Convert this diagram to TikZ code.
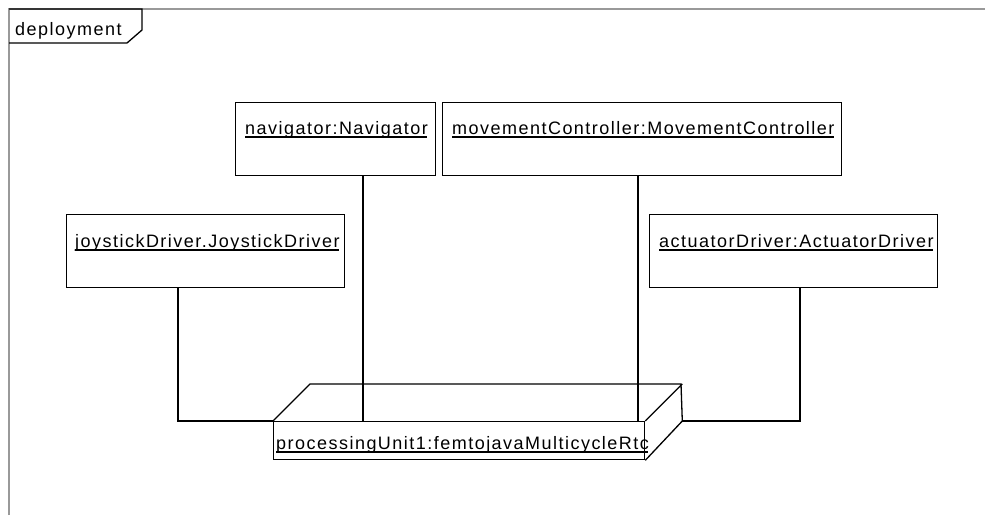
\documentclass[tikz,border=0pt]{standalone}
\usepackage{fontspec}
\setmainfont[LetterSpace=8.2]{Liberation Sans}
\usetikzlibrary{calc}
\begin{document}
\begin{tikzpicture}[x=1pt,y=-1pt,
  inst/.style={draw=black,line width=1.3pt,minimum height=73pt,inner sep=0pt,anchor=north west},
  lbl/.style={anchor=base west,inner sep=0pt,font=\fontsize{18}{20}\selectfont},
  conn/.style={draw=black,line width=1.3pt},
  ul/.style={draw=black,line width=1.1pt},
  frame/.style={draw=black!40,line width=1.3pt}]
\useasboundingbox (0,0) rectangle (985,515);
% frame
\draw[frame] (9,515) -- (9,9) -- (985,9);
\draw[conn] (9,9) -- (142,9) -- (142,30) -- (127,43) -- (9,43);
\node[lbl] (ft) at (15,35) {deployment};
% instance boxes
\node[inst,minimum width=200pt] (nav) at (235,102) {};
\node[inst,minimum width=399pt] (mc) at (442,102) {};
\node[inst,minimum width=278pt] (joy) at (66,214) {};
\node[inst,minimum width=288pt] (act) at (649,214) {};
% labels
\node[lbl] (navl) at (245,134) {navigator:Navigator};
\node[lbl] (mcl) at (452,134) {movementController:MovementController};
\node[lbl] (joyl) at (75,247) {joystickDriver.JoystickDriver};
\node[lbl] (actl) at (659,247) {actuatorDriver:ActuatorDriver};
% processing unit node (3D box)
\node[draw=black,line width=1.3pt,minimum width=371pt,minimum height=38pt,inner sep=0pt,anchor=north west] (pu) at (273,421) {};
\coordinate (pubr) at ($(pu.north east)+(37,0)$);
\draw[conn] (pu.north west) -- ++(37,-37) -- ++(371,0) -- (pubr) -- (pu.south east);
\draw[conn] (pu.north east) -- ++(37,-37);
\node[lbl] (pul) at (276,449) {processingUnit1:femtojavaMulticycleRtc};
% underlines
\foreach \n in {navl,mcl,joyl,actl,pul}{
  \draw[ul] ($(\n.base west)+(0,3)$) -- ($(\n.base east)+(-1,3)$);
}
% connectors
\draw[conn] (joy.south -| 178,0) |- (pu.north west);
\draw[conn] (nav.south -| 363,0) -- (pu.north -| 363,0);
\draw[conn] (mc.south -| 638,0) -- (pu.north -| 638,0);
\draw[conn] (act.south -| 800,0) |- (pubr);
\end{tikzpicture}
\end{document}
